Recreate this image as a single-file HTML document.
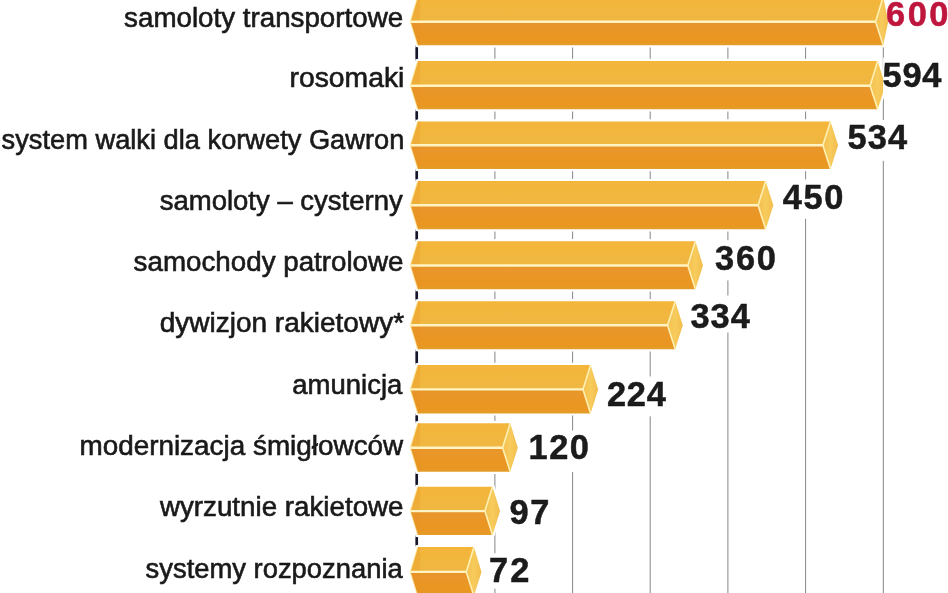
<!DOCTYPE html>
<html lang="pl"><head><meta charset="utf-8"><title>Wykres</title>
<style>
html,body{margin:0;padding:0;background:#fff;}
body{width:948px;height:593px;overflow:hidden;}
svg{display:block;}
.lb{font-family:"Liberation Sans",sans-serif;font-size:27px;fill:#1a1a1a;stroke:#1a1a1a;stroke-width:0.6px;}
.nm{font-family:"Liberation Sans",sans-serif;font-weight:bold;font-size:34.4px;stroke-width:0.5px;}
</style></head><body>
<svg width="948" height="593" viewBox="0 0 948 593">
<defs>
<linearGradient id="gt" x1="0" y1="0" x2="0" y2="1"><stop offset="0" stop-color="#f4b539"/><stop offset="1" stop-color="#efb843"/></linearGradient>
<linearGradient id="gb" x1="0" y1="0" x2="0" y2="1"><stop offset="0" stop-color="#e7942a"/><stop offset="0.2" stop-color="#e9962a"/><stop offset="0.8" stop-color="#e99620"/><stop offset="1" stop-color="#e49d2a"/></linearGradient>
<linearGradient id="gc" x1="0" y1="0" x2="1" y2="0"><stop offset="0" stop-color="#f3c050"/><stop offset="0.5" stop-color="#f7cb5c"/><stop offset="1" stop-color="#f2bd4c"/></linearGradient>
<filter id="sf" x="-2%" y="-2%" width="104%" height="104%"><feGaussianBlur stdDeviation="0.45"/></filter>
</defs>
<g filter="url(#sf)">
<rect x="-10" y="-10" width="968" height="613" fill="#fff"/>

<line x1="494.9" y1="-10" x2="494.9" y2="603" stroke="#85858a" stroke-width="1"/>
<line x1="572.6" y1="-10" x2="572.6" y2="603" stroke="#85858a" stroke-width="1"/>
<line x1="650.2" y1="-10" x2="650.2" y2="603" stroke="#85858a" stroke-width="1"/>
<line x1="727.9" y1="-10" x2="727.9" y2="603" stroke="#85858a" stroke-width="1"/>
<line x1="805.6" y1="-10" x2="805.6" y2="603" stroke="#85858a" stroke-width="1"/>
<line x1="883.3" y1="-10" x2="883.3" y2="603" stroke="#85858a" stroke-width="1"/>
<line x1="416.8" y1="-10" x2="416.8" y2="603" stroke="#1b2140" stroke-width="2.3"/>
<polygon points="410.2,21.7 417.6,-3.5 883.2,-3.5 888.2,21.7 883.2,45.2 417.6,45.2" fill="#fff" stroke="#fff" stroke-width="4.4" stroke-linejoin="round"/>
<polygon points="410.2,21.7 417.6,-3.5 883.2,-3.5 875.6,21.7" fill="url(#gt)"/>
<polygon points="410.2,21.7 417.6,45.2 883.2,45.2 875.6,21.7" fill="url(#gb)"/>
<polygon points="410.2,21.7 417.6,-3.5 420.1,-3.5 420.1,45.2 417.6,45.2" fill="#e8901e" opacity="0.25"/>
<polygon points="875.6,21.7 883.2,-3.5 888.2,21.7 883.2,45.2" fill="url(#gc)"/>
<line x1="410.2" y1="21.7" x2="875.6" y2="21.7" stroke="#fff4c2" stroke-width="2.4"/>
<polyline points="883.2,-3.5 875.6,21.7 883.2,45.2" fill="none" stroke="#fff0b4" stroke-width="1.6"/>
<polyline points="417.6,-3.5 410.2,21.7 417.6,45.2" fill="none" stroke="#fff0b4" stroke-width="1.2" opacity="0.7"/>
<polygon points="410.2,85.7 417.6,61.0 877.7,61.0 885.3,85.7 877.7,109.2 417.6,109.2" fill="#fff" stroke="#fff" stroke-width="4.4" stroke-linejoin="round"/>
<polygon points="410.2,85.7 417.6,61.0 877.7,61.0 870.1,85.7" fill="url(#gt)"/>
<polygon points="410.2,85.7 417.6,109.2 877.7,109.2 870.1,85.7" fill="url(#gb)"/>
<polygon points="410.2,85.7 417.6,61.0 420.1,61.0 420.1,109.2 417.6,109.2" fill="#e8901e" opacity="0.25"/>
<polygon points="870.1,85.7 877.7,61.0 885.3,85.7 877.7,109.2" fill="url(#gc)"/>
<line x1="410.2" y1="85.7" x2="870.1" y2="85.7" stroke="#fff4c2" stroke-width="2.4"/>
<polyline points="877.7,61.0 870.1,85.7 877.7,109.2" fill="none" stroke="#fff0b4" stroke-width="1.6"/>
<polyline points="417.6,61.0 410.2,85.7 417.6,109.2" fill="none" stroke="#fff0b4" stroke-width="1.2" opacity="0.7"/>
<polygon points="410.2,145.3 417.6,121.4 830.5,121.4 838.1,145.3 830.5,169.0 417.6,169.0" fill="#fff" stroke="#fff" stroke-width="4.4" stroke-linejoin="round"/>
<polygon points="410.2,145.3 417.6,121.4 830.5,121.4 822.9,145.3" fill="url(#gt)"/>
<polygon points="410.2,145.3 417.6,169.0 830.5,169.0 822.9,145.3" fill="url(#gb)"/>
<polygon points="410.2,145.3 417.6,121.4 420.1,121.4 420.1,169.0 417.6,169.0" fill="#e8901e" opacity="0.25"/>
<polygon points="822.9,145.3 830.5,121.4 838.1,145.3 830.5,169.0" fill="url(#gc)"/>
<line x1="410.2" y1="145.3" x2="822.9" y2="145.3" stroke="#fff4c2" stroke-width="2.4"/>
<polyline points="830.5,121.4 822.9,145.3 830.5,169.0" fill="none" stroke="#fff0b4" stroke-width="1.6"/>
<polyline points="417.6,121.4 410.2,145.3 417.6,169.0" fill="none" stroke="#fff0b4" stroke-width="1.2" opacity="0.7"/>
<polygon points="410.2,205.3 417.6,181.1 765.7,181.1 773.3,205.3 765.7,229.2 417.6,229.2" fill="#fff" stroke="#fff" stroke-width="4.4" stroke-linejoin="round"/>
<polygon points="410.2,205.3 417.6,181.1 765.7,181.1 758.1,205.3" fill="url(#gt)"/>
<polygon points="410.2,205.3 417.6,229.2 765.7,229.2 758.1,205.3" fill="url(#gb)"/>
<polygon points="410.2,205.3 417.6,181.1 420.1,181.1 420.1,229.2 417.6,229.2" fill="#e8901e" opacity="0.25"/>
<polygon points="758.1,205.3 765.7,181.1 773.3,205.3 765.7,229.2" fill="url(#gc)"/>
<line x1="410.2" y1="205.3" x2="758.1" y2="205.3" stroke="#fff4c2" stroke-width="2.4"/>
<polyline points="765.7,181.1 758.1,205.3 765.7,229.2" fill="none" stroke="#fff0b4" stroke-width="1.6"/>
<polyline points="417.6,181.1 410.2,205.3 417.6,229.2" fill="none" stroke="#fff0b4" stroke-width="1.2" opacity="0.7"/>
<polygon points="410.2,265.5 417.6,241.3 695.4,241.3 703.0,265.5 695.4,289.3 417.6,289.3" fill="#fff" stroke="#fff" stroke-width="4.4" stroke-linejoin="round"/>
<polygon points="410.2,265.5 417.6,241.3 695.4,241.3 687.8,265.5" fill="url(#gt)"/>
<polygon points="410.2,265.5 417.6,289.3 695.4,289.3 687.8,265.5" fill="url(#gb)"/>
<polygon points="410.2,265.5 417.6,241.3 420.1,241.3 420.1,289.3 417.6,289.3" fill="#e8901e" opacity="0.25"/>
<polygon points="687.8,265.5 695.4,241.3 703.0,265.5 695.4,289.3" fill="url(#gc)"/>
<line x1="410.2" y1="265.5" x2="687.8" y2="265.5" stroke="#fff4c2" stroke-width="2.4"/>
<polyline points="695.4,241.3 687.8,265.5 695.4,289.3" fill="none" stroke="#fff0b4" stroke-width="1.6"/>
<polyline points="417.6,241.3 410.2,265.5 417.6,289.3" fill="none" stroke="#fff0b4" stroke-width="1.2" opacity="0.7"/>
<polygon points="410.2,325.3 417.6,301.2 675.2,301.2 682.8,325.3 675.2,349.3 417.6,349.3" fill="#fff" stroke="#fff" stroke-width="4.4" stroke-linejoin="round"/>
<polygon points="410.2,325.3 417.6,301.2 675.2,301.2 667.6,325.3" fill="url(#gt)"/>
<polygon points="410.2,325.3 417.6,349.3 675.2,349.3 667.6,325.3" fill="url(#gb)"/>
<polygon points="410.2,325.3 417.6,301.2 420.1,301.2 420.1,349.3 417.6,349.3" fill="#e8901e" opacity="0.25"/>
<polygon points="667.6,325.3 675.2,301.2 682.8,325.3 675.2,349.3" fill="url(#gc)"/>
<line x1="410.2" y1="325.3" x2="667.6" y2="325.3" stroke="#fff4c2" stroke-width="2.4"/>
<polyline points="675.2,301.2 667.6,325.3 675.2,349.3" fill="none" stroke="#fff0b4" stroke-width="1.6"/>
<polyline points="417.6,301.2 410.2,325.3 417.6,349.3" fill="none" stroke="#fff0b4" stroke-width="1.2" opacity="0.7"/>
<polygon points="410.2,389.4 417.6,365.0 590.6,365.0 598.2,389.4 590.6,413.4 417.6,413.4" fill="#fff" stroke="#fff" stroke-width="4.4" stroke-linejoin="round"/>
<polygon points="410.2,389.4 417.6,365.0 590.6,365.0 583.0,389.4" fill="url(#gt)"/>
<polygon points="410.2,389.4 417.6,413.4 590.6,413.4 583.0,389.4" fill="url(#gb)"/>
<polygon points="410.2,389.4 417.6,365.0 420.1,365.0 420.1,413.4 417.6,413.4" fill="#e8901e" opacity="0.25"/>
<polygon points="583.0,389.4 590.6,365.0 598.2,389.4 590.6,413.4" fill="url(#gc)"/>
<line x1="410.2" y1="389.4" x2="583.0" y2="389.4" stroke="#fff4c2" stroke-width="2.4"/>
<polyline points="590.6,365.0 583.0,389.4 590.6,413.4" fill="none" stroke="#fff0b4" stroke-width="1.6"/>
<polyline points="417.6,365.0 410.2,389.4 417.6,413.4" fill="none" stroke="#fff0b4" stroke-width="1.2" opacity="0.7"/>
<polygon points="410.2,447.8 417.6,423.2 510.2,423.2 517.8,447.8 510.2,471.8 417.6,471.8" fill="#fff" stroke="#fff" stroke-width="4.4" stroke-linejoin="round"/>
<polygon points="410.2,447.8 417.6,423.2 510.2,423.2 502.6,447.8" fill="url(#gt)"/>
<polygon points="410.2,447.8 417.6,471.8 510.2,471.8 502.6,447.8" fill="url(#gb)"/>
<polygon points="410.2,447.8 417.6,423.2 420.1,423.2 420.1,471.8 417.6,471.8" fill="#e8901e" opacity="0.25"/>
<polygon points="502.6,447.8 510.2,423.2 517.8,447.8 510.2,471.8" fill="url(#gc)"/>
<line x1="410.2" y1="447.8" x2="502.6" y2="447.8" stroke="#fff4c2" stroke-width="2.4"/>
<polyline points="510.2,423.2 502.6,447.8 510.2,471.8" fill="none" stroke="#fff0b4" stroke-width="1.6"/>
<polyline points="417.6,423.2 410.2,447.8 417.6,471.8" fill="none" stroke="#fff0b4" stroke-width="1.2" opacity="0.7"/>
<polygon points="410.2,511.1 417.6,486.7 492.5,486.7 500.1,511.1 492.5,535.0 417.6,535.0" fill="#fff" stroke="#fff" stroke-width="4.4" stroke-linejoin="round"/>
<polygon points="410.2,511.1 417.6,486.7 492.5,486.7 484.9,511.1" fill="url(#gt)"/>
<polygon points="410.2,511.1 417.6,535.0 492.5,535.0 484.9,511.1" fill="url(#gb)"/>
<polygon points="410.2,511.1 417.6,486.7 420.1,486.7 420.1,535.0 417.6,535.0" fill="#e8901e" opacity="0.25"/>
<polygon points="484.9,511.1 492.5,486.7 500.1,511.1 492.5,535.0" fill="url(#gc)"/>
<line x1="410.2" y1="511.1" x2="484.9" y2="511.1" stroke="#fff4c2" stroke-width="2.4"/>
<polyline points="492.5,486.7 484.9,511.1 492.5,535.0" fill="none" stroke="#fff0b4" stroke-width="1.6"/>
<polyline points="417.6,486.7 410.2,511.1 417.6,535.0" fill="none" stroke="#fff0b4" stroke-width="1.2" opacity="0.7"/>
<polygon points="410.2,571.9 417.6,547.0 473.9,547.0 481.5,571.9 473.9,596.0 417.6,596.0" fill="#fff" stroke="#fff" stroke-width="4.4" stroke-linejoin="round"/>
<polygon points="410.2,571.9 417.6,547.0 473.9,547.0 466.3,571.9" fill="url(#gt)"/>
<polygon points="410.2,571.9 417.6,596.0 473.9,596.0 466.3,571.9" fill="url(#gb)"/>
<polygon points="410.2,571.9 417.6,547.0 420.1,547.0 420.1,596.0 417.6,596.0" fill="#e8901e" opacity="0.25"/>
<polygon points="466.3,571.9 473.9,547.0 481.5,571.9 473.9,596.0" fill="url(#gc)"/>
<line x1="410.2" y1="571.9" x2="466.3" y2="571.9" stroke="#fff4c2" stroke-width="2.4"/>
<polyline points="473.9,547.0 466.3,571.9 473.9,596.0" fill="none" stroke="#fff0b4" stroke-width="1.6"/>
<polyline points="417.6,547.0 410.2,571.9 417.6,596.0" fill="none" stroke="#fff0b4" stroke-width="1.2" opacity="0.7"/>
<rect x="415.55" y="47.6" width="2.5" height="11.2" fill="#15182c"/>
<rect x="415.55" y="111.6" width="2.5" height="7.6" fill="#15182c"/>
<rect x="415.55" y="171.4" width="2.5" height="7.5" fill="#15182c"/>
<rect x="415.55" y="231.6" width="2.5" height="7.5" fill="#15182c"/>
<rect x="415.55" y="291.7" width="2.5" height="7.3" fill="#15182c"/>
<rect x="415.55" y="351.7" width="2.5" height="11.1" fill="#15182c"/>
<rect x="415.55" y="415.8" width="2.5" height="5.2" fill="#15182c"/>
<rect x="415.55" y="474.2" width="2.5" height="10.3" fill="#15182c"/>
<rect x="415.55" y="537.4" width="2.5" height="7.4" fill="#15182c"/>
<rect x="883.1" y="57.5" width="62.1" height="41.0" fill="#fff"/>
<rect x="848.1" y="119.9" width="62.3" height="40.9" fill="#fff"/>
<rect x="782.0" y="179.4" width="63.7" height="39.4" fill="#fff"/>
<rect x="715.4" y="240.1" width="62.6" height="40.3" fill="#fff"/>
<rect x="690.7" y="295.5" width="63.0" height="37.0" fill="#fff"/>
<rect x="606.8" y="376.5" width="62.7" height="39.8" fill="#fff"/>
<rect x="529.5" y="430.5" width="61.9" height="41.5" fill="#fff"/>
<rect x="509.5" y="494.5" width="42.2" height="40.5" fill="#fff"/>
<rect x="489.4" y="553.2" width="42.3" height="35.5" fill="#fff"/>
<text class="lb" x="124.14" y="26.5" textLength="278.98" lengthAdjust="spacingAndGlyphs">samoloty transportowe</text>
<text class="lb" x="289.50" y="87.3" textLength="114.84" lengthAdjust="spacingAndGlyphs">rosomaki</text>
<text class="lb" x="1.64" y="148.6" textLength="402.70" lengthAdjust="spacingAndGlyphs">system walki dla korwety Gawron</text>
<text class="lb" x="159.68" y="209.8" textLength="243.06" lengthAdjust="spacingAndGlyphs">samoloty – cysterny</text>
<text class="lb" x="133.64" y="270.7" textLength="269.90" lengthAdjust="spacingAndGlyphs">samochody patrolowe</text>
<text class="lb" x="159.68" y="332.1" textLength="244.40" lengthAdjust="spacingAndGlyphs">dywizjon rakietowy*</text>
<text class="lb" x="292.30" y="393.8" textLength="110.10" lengthAdjust="spacingAndGlyphs">amunicja</text>
<text class="lb" x="79.42" y="454.5" textLength="323.82" lengthAdjust="spacingAndGlyphs">modernizacja śmigłowców</text>
<text class="lb" x="159.90" y="515.8" textLength="243.64" lengthAdjust="spacingAndGlyphs">wyrzutnie rakietowe</text>
<text class="lb" x="145.64" y="577.6" textLength="257.10" lengthAdjust="spacingAndGlyphs">systemy rozpoznania</text>
<text class="nm" x="886.04" y="26.3" fill="#bf143d" stroke="#bf143d" textLength="62.38" lengthAdjust="spacing">600</text>
<text class="nm" x="882.54" y="87.0" fill="#1a1a1a" stroke="#1a1a1a" textLength="58.82" lengthAdjust="spacing">594</text>
<text class="nm" x="847.54" y="149.4" fill="#1a1a1a" stroke="#1a1a1a" textLength="59.66" lengthAdjust="spacing">534</text>
<text class="nm" x="782.72" y="208.7" fill="#1a1a1a" stroke="#1a1a1a" textLength="60.74" lengthAdjust="spacing">450</text>
<text class="nm" x="715.00" y="270.1" fill="#1a1a1a" stroke="#1a1a1a" textLength="60.92" lengthAdjust="spacing">360</text>
<text class="nm" x="690.46" y="328.0" fill="#1a1a1a" stroke="#1a1a1a" textLength="59.40" lengthAdjust="spacing">334</text>
<text class="nm" x="606.88" y="405.9" fill="#1a1a1a" stroke="#1a1a1a" textLength="58.94" lengthAdjust="spacing">224</text>
<text class="nm" x="528.62" y="459.0" fill="#1a1a1a" stroke="#1a1a1a" textLength="60.38" lengthAdjust="spacing">120</text>
<text class="nm" x="509.42" y="524.0" fill="#1a1a1a" stroke="#1a1a1a" textLength="40.04" lengthAdjust="spacing">97</text>
<text class="nm" x="489.00" y="582.2" fill="#1a1a1a" stroke="#1a1a1a" textLength="40.46" lengthAdjust="spacing">72</text>
</g>
</svg></body></html>
